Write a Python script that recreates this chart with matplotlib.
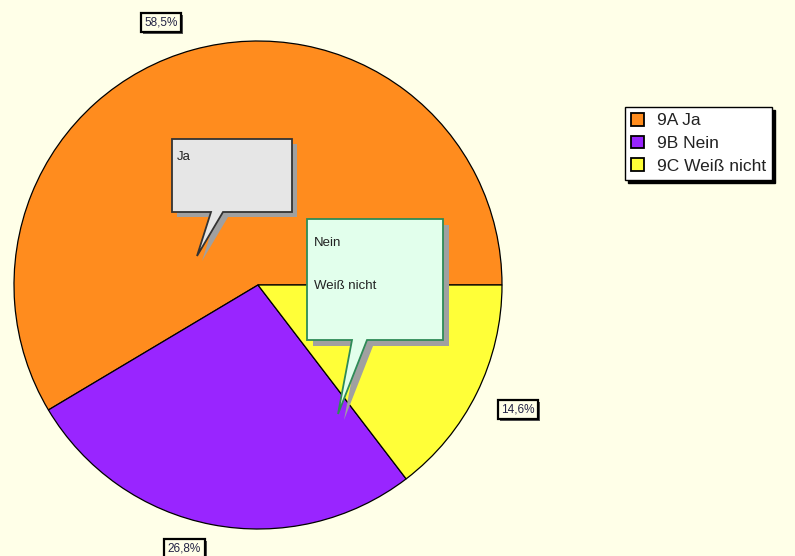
import matplotlib.pyplot as plt
import matplotlib.patheffects as pe
import numpy as np
from matplotlib.patches import Polygon, Patch

plt.rcParams['font.family'] = ['Liberation Sans', 'DejaVu Sans']

# data
categories = ["9A Ja", "9B Nein", "9C Weiß nicht"]
shares = [58.5, 26.8, 14.6]
pct_labels = ["58,5%", "26,8%", "14,6%"]
colors = ["#FF8C1E", "#9925FF", "#FFFF38"]

# label placement tweaks (angle nudge in degrees, radial factor)
label_nudge = [4.9, -4.7, 0.7]
label_dist = [1.148, 1.121, 1.182]

BG = "#FFFFE8"
W, H = 795, 556


def py(y):
    # pixel row (top-down) -> data y (bottom-up)
    return H - y


fig = plt.figure(figsize=(W / 100, H / 100), dpi=100, facecolor=BG)
ax = fig.add_axes([0, 0, 1, 1])

cx, cy, r = 258, py(285), 244
wedges, _ = ax.pie(shares, colors=colors, startangle=0, counterclock=True,
                   center=(cx, cy), radius=r, frame=True,
                   wedgeprops=dict(edgecolor="black", linewidth=0.9))
ax.set_xlim(0, W)
ax.set_ylim(0, H)
ax.set_aspect("equal")
ax.axis("off")

# percentage labels outside the slices, boxed with a small drop shadow
for w, lab, nud, dist in zip(wedges, pct_labels, label_nudge, label_dist):
    mid = np.deg2rad((w.theta1 + w.theta2) / 2 + nud)
    lx = cx + dist * r * np.cos(mid)
    ly = cy + dist * r * np.sin(mid)
    t = ax.text(lx, ly, lab, ha="center", va="center", fontsize=8.5, color="#222244",
                bbox=dict(boxstyle="square,pad=0.3", fc=BG, ec="black", lw=1.6))
    t.get_bbox_patch().set_path_effects([
        pe.SimplePatchShadow(offset=(1.5, -1.5), shadow_rgbFace="#444444", alpha=0.9),
        pe.Normal()])


def callout(pts, fc, ec, shadow=5):
    pts = [(x, py(y)) for x, y in pts]
    sh = [(x + shadow, y - shadow) for x, y in pts]
    ax.add_patch(Polygon(sh, closed=True, fc="#A0A0A0", ec="none", zorder=5))
    ax.add_patch(Polygon(pts, closed=True, fc=fc, ec=ec, lw=1.3, zorder=6))


callout([(172, 139), (292, 139), (292, 212), (223, 212), (197, 256),
         (211, 212), (172, 212)], "#E6E6E6", "#333333")
ax.text(177, py(157), "Ja", fontsize=9.5, color="#222222", va="center", zorder=7)

callout([(307, 219), (443, 219), (443, 340), (367, 340), (338, 414),
         (352, 340), (307, 340)], "#E2FFEC", "#2E8B57", shadow=6)
ax.text(314, py(243), "Nein", fontsize=9.5, color="#222222", va="center", zorder=7)
ax.text(314, py(286), "Weiß nicht", fontsize=9.5, color="#222222", va="center", zorder=7)

# legend
handles = [Patch(fc=c, ec="black", lw=1.3) for c in colors]
leg = ax.legend(handles, categories, loc="upper left",
                bbox_to_anchor=(625 / W, 1 - 107 / H), bbox_transform=fig.transFigure,
                prop={"size": 12.5}, frameon=True, fancybox=False, handlelength=0.75,
                handleheight=0.75, handletextpad=0.75, labelspacing=0.42,
                borderpad=0.35, borderaxespad=0,
                shadow={"color": "black", "alpha": 1})
leg.get_frame().set_edgecolor("black")
leg.get_frame().set_linewidth(1.0)
leg.get_frame().set_facecolor("white")
leg.get_frame().set_alpha(1)
for t in leg.get_texts():
    t.set_color("#222222")

fig.savefig("out.png", dpi=100, facecolor=BG)
